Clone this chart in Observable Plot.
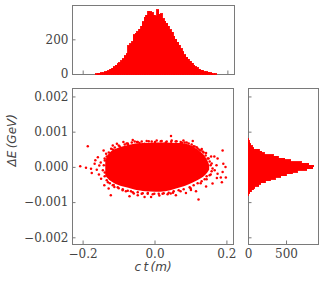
<!DOCTYPE html>
<html><head><meta charset="utf-8">
<script src="https://cdn.jsdelivr.net/npm/d3@7"></script>
<script src="https://cdn.jsdelivr.net/npm/@observablehq/plot@0.6"></script>
<style>
body{margin:0;background:#fff;}
#c{position:relative;width:323px;height:282px;overflow:hidden;background:#fff;}
#c svg{position:absolute;overflow:visible;}
</style></head><body><div id="c"></div>
<script>
// ---- data ----
const topBinStart = [-0.165,-0.16,-0.155,-0.15,-0.145,-0.14,-0.135,-0.13,-0.125,-0.12,-0.115,-0.11,-0.105,-0.1,-0.095,-0.09,-0.085,-0.08,-0.075,-0.07,-0.065,-0.06,-0.055,-0.05,-0.045,-0.04,-0.035,-0.03,-0.025,-0.02,-0.015,-0.01,-0.005,0,0.005,0.01,0.015,0.02,0.025,0.03,0.035,0.04,0.045,0.05,0.055,0.06,0.065,0.07,0.075,0.08,0.085,0.09,0.095,0.1,0.105,0.11,0.115,0.12,0.125,0.13,0.135,0.14,0.145,0.15,0.155,0.16,0.165];
const topCounts = [1,2,4,6,8,12,15,20,26,33,42,50,58,66,76,88,104,118,164,175,186,226,236,245,258,275,300,326,340,362,358,352,340,330,372,345,348,318,305,294,276,256,240,218,200,184,166,145,128,112,96,86,74,62,50,42,36,28,22,18,14,12,9,7,4,2,1];
const topBinWidth = 0.005;

const rightBinStart = [-0.0008,-0.00075,-0.0007,-0.00065,-0.0006,-0.00055,-0.0005,-0.00045,-0.0004,-0.00035,-0.0003,-0.00025,-0.0002,-0.00015,-0.0001,-0.00005,0,0.00005,0.0001,0.00015,0.0002,0.00025,0.0003,0.00035,0.0004,0.00045,0.0005,0.00055,0.0006,0.00065,0.0007,0.00075];
const rightCounts = [10,25,40,70,90,140,170,225,290,360,430,500,580,650,770,850,865,800,700,560,480,400,330,215,180,145,78,55,35,22,15,8];
const rightBinWidth = 0.00005;

// dense (solid) part of the scatter: outline of the filled region
const coreX = [-0.137,-0.123,-0.1095,-0.0953,-0.0731,-0.0536,-0.0258,0.0019,0.0297,0.0575,0.0853,0.1047,0.1214,0.1353,0.1464,0.152];
const coreTop = [0.000198,0.000425,0.00051,0.000567,0.000623,0.000666,0.00068,0.000694,0.000694,0.00068,0.000666,0.000595,0.000482,0.000368,0.000198,0.000057];
const coreBottom = [-0.000255,-0.000397,-0.00048,-0.000538,-0.000595,-0.000652,-0.000694,-0.000708,-0.000694,-0.000623,-0.000538,-0.000453,-0.000368,-0.000283,-0.00017,-0.000085];

// individual points: outliers of the cloud
const dotX = [-0.208,-0.187,-0.192,-0.178,-0.176,-0.168,-0.166,-0.159,-0.162,-0.156,-0.150,-0.141,-0.129,-0.143,-0.136,-0.122,-0.1175,-0.106,-0.088,-0.062,-0.043,-0.029,-0.067,-0.071,-0.048,-0.029,-0.011,-0.090,-0.113,-0.123,-0.151,-0.145,-0.140,-0.134,-0.140,-0.131,-0.129,-0.101,-0.079,-0.101,-0.081,-0.059,-0.037,-0.0175,0.0444,0.079,0.107,0.123,0.142,0.156,0.165,0.174,0.188,0.190,0.196,0.188,0.197,0.183,0.186,0.172,0.174,0.160,0.142,0.114,0.086,0.121,0.058,0.035,0.012,-0.002,0.105,0.016,0.060,0.088,0.116,0.1325,0.149,0.1575,0.160,0.155,0.1435,0.127,0.099,0.071,0.0436,0.021,0.166,0.171,-0.05,0.0,0.03,0.045,0.075,-0.075,0.05,-0.02,0.10,0.13,-0.115,-0.155];
const dotY = [0.00003,0.00060,-0.00001,-0.00004,-0.00016,0.00010,0.00020,0.00029,-0.00007,-0.00020,-0.00032,-0.00051,-0.00060,0.00048,0.00039,0.00053,0.00062,0.00067,0.00072,0.00078,0.00069,0.00067,-0.00068,-0.00082,-0.00079,-0.00084,-0.00084,-0.00065,-0.00056,-0.00079,0.00014,-0.00008,0.00025,0.00006,-0.00025,-0.00042,0.00034,0.00062,0.00068,-0.00059,-0.00068,-0.00074,-0.00075,0.00074,0.00089,0.00076,0.00060,0.00050,0.00041,0.00031,0.00031,0.00025,0.00048,0.00010,0.00001,-0.00013,-0.00029,-0.00029,-0.00042,-0.00030,-0.00018,-0.00046,-0.00054,-0.00068,-0.00073,-0.00091,-0.00079,-0.00076,-0.00080,-0.00075,0.00075,0.00074,0.00074,0.00071,0.00057,0.00045,0.00025,0.00011,-0.00003,-0.00020,-0.00034,-0.00045,-0.00059,-0.00068,-0.00074,-0.00075,-0.00008,0.00006,0.00072,0.00072,0.00071,0.00073,0.00070,0.00064,-0.00072,-0.00073,-0.00064,0.00052,-0.00050,0.00005];

// points hugging the edge of the solid region
const edgeX = [-0.1286,-0.1175,-0.1119,-0.0981,-0.0842,-0.0758,-0.0647,-0.0564,-0.0481,-0.0369,-0.0231,-0.0092,0.0047,0.0186,0.0325,0.0464,0.0575,0.0714,0.0825,0.0936,0.1019,0.1103,0.1186,0.1269,0.1353,0.1408,0.1464,0.1519,0.1547,0.1575,0.1519,0.1436,0.1381,0.1297,0.1186,0.1075,0.0964,0.0797,0.0658,0.0519,0.038,0.0242,0.0103,-0.0064,-0.0203,-0.0342,-0.0481,-0.0619,-0.0758,-0.0897,-0.1036,-0.1175,-0.1258,-0.1342,-0.1397,-0.1425,-0.1397,-0.1342];
const edgeY = [0.000425,0.00051,0.000567,0.000595,0.000652,0.00068,0.000708,0.000737,0.000722,0.000737,0.000751,0.000737,0.000765,0.000751,0.000737,0.000765,0.000737,0.000722,0.000708,0.00068,0.000652,0.000595,0.000538,0.000482,0.000425,0.00034,0.000255,0.00017,0.000057,-0.000113,-0.000227,-0.000255,-0.00034,-0.000397,-0.000453,-0.00051,-0.000567,-0.000623,-0.000652,-0.00068,-0.000722,-0.000737,-0.000751,-0.000765,-0.000751,-0.000737,-0.000708,-0.000708,-0.000666,-0.000623,-0.000567,-0.00051,-0.000453,-0.000368,-0.000142,0.000057,0.000198,0.000312];

const xTicks = [-0.2, 0.0, 0.2];
const yTicks = [-0.002, -0.001, 0.0, 0.001, 0.002];
const topCountTicks = [0, 200];
const rightCountTicks = [0, 500];
const xLabel = "c\u2009t\u2009(m)";
const yLabel = "\u0394E\u2009(GeV)";

// ---- styling ----
const RED = "#ff0000";
const FRAME = "#7a7a7a";
const TXT = "#444444";
const SERIF = "DejaVu Serif";
const SANS = "DejaVu Sans";
const xDomain = [-0.2295, 0.2183];
const yDomain = [-0.00219, 0.00224];
const baseStyle = {fontFamily: SERIF, fontSize: "12px", color: TXT, background: "transparent", overflow: "visible"};
const TL = 3.5; // inward tick length

const table = (keys, cols) => cols[0].map((_, i) => Object.fromEntries(keys.map((k, j) => [k, cols[j][i]])));
const coreData = table(["x", "top", "bottom"], [coreX, coreTop, coreBottom]);
const dotData = table(["x", "y"], [dotX.concat(edgeX), dotY.concat(edgeY)]);
const topData = table(["x0", "n"], [topBinStart, topCounts]);
const rightData = table(["y0", "n"], [rightBinStart, rightCounts]);

const c = document.getElementById("c");
function place(svg, left, top) { svg.style.left = left + "px"; svg.style.top = top + "px"; c.appendChild(svg); }
const axisText = {fill: TXT, fontFamily: SERIF, fontSize: 12, label: null, tickSize: 0};
const barStyle = {fill: RED, inset: 0, stroke: RED, strokeWidth: 0.9, shapeRendering: "crispEdges"};

// main scatter
{
  const W = 240, H = 202, mL = 72, mR = 7, mT = 8, mB = 38;
  const fw = W - mL - mR, fh = H - mT - mB;
  const p = Plot.plot({
    width: W, height: H, marginLeft: mL, marginRight: mR, marginTop: mT, marginBottom: mB,
    style: baseStyle,
    x: {domain: xDomain, axis: null},
    y: {domain: yDomain, axis: null},
    marks: [
      Plot.areaY(coreData, {x: "x", y1: "bottom", y2: "top", fill: RED, curve: "catmull-rom"}),
      Plot.dot(dotData, {x: "x", y: "y", r: 1.25, fill: RED, stroke: "none"}),
      Plot.frame({stroke: FRAME}),
      Plot.tickX(xTicks, {x: d => d, insetTop: fh - TL, stroke: FRAME}),
      Plot.tickY(yTicks, {y: d => d, insetRight: fw - TL, stroke: FRAME}),
      Plot.axisX({...axisText, ticks: xTicks, tickPadding: 5, tickFormat: d3.format(".1f")}),
      Plot.axisY({...axisText, ticks: yTicks, tickPadding: 4, tickFormat: d3.format(".3f")}),
      Plot.text([xLabel], {frameAnchor: "bottom", dy: 26, fontFamily: SANS, fontStyle: "italic", fontSize: 12, fill: TXT}),
      Plot.text([yLabel], {frameAnchor: "left", dx: -60, rotate: -90, fontFamily: SANS, fontStyle: "italic", fontSize: 12, fill: TXT})
    ]
  });
  place(p, 0, 80);
}

// top histogram
{
  const W = 240, H = 80, mL = 72, mR = 6, mT = 5, mB = 6;
  const fw = W - mL - mR, fh = H - mT - mB;
  const p = Plot.plot({
    width: W, height: H, marginLeft: mL, marginRight: mR, marginTop: mT, marginBottom: mB,
    style: baseStyle,
    x: {domain: xDomain, axis: null},
    y: {domain: [0, 398], axis: null},
    marks: [
      Plot.frame({stroke: FRAME}),
      Plot.tickX(xTicks, {x: d => d, insetTop: fh - TL, stroke: FRAME}),
      Plot.tickY(topCountTicks, {y: d => d, insetRight: fw - TL, stroke: FRAME}),
      Plot.rectY(topData, {x1: "x0", x2: d => d.x0 + topBinWidth, y1: 0, y2: "n", ...barStyle}),
      Plot.axisY({...axisText, ticks: topCountTicks, tickPadding: 4, tickFormat: d3.format("d")})
    ]
  });
  place(p, 0, 0);
}

// right histogram
{
  const W = 83, H = 202, mL = 8, mR = 5, mT = 8, mB = 38;
  const fw = W - mL - mR, fh = H - mT - mB;
  const p = Plot.plot({
    width: W, height: H, marginLeft: mL, marginRight: mR, marginTop: mT, marginBottom: mB,
    style: baseStyle,
    x: {domain: [0, 920], axis: null},
    y: {domain: yDomain, axis: null},
    marks: [
      Plot.frame({stroke: FRAME}),
      Plot.tickY(yTicks, {y: d => d, insetRight: fw - TL, stroke: FRAME}),
      Plot.tickX(rightCountTicks, {x: d => d, insetTop: fh - TL, stroke: FRAME}),
      Plot.rectX(rightData, {y1: "y0", y2: d => d.y0 + rightBinWidth, x1: 0, x2: "n", ...barStyle}),
      Plot.axisX({...axisText, ticks: rightCountTicks, tickPadding: 5, tickFormat: d3.format("d")})
    ]
  });
  place(p, 240, 80);
}
</script></body></html>
